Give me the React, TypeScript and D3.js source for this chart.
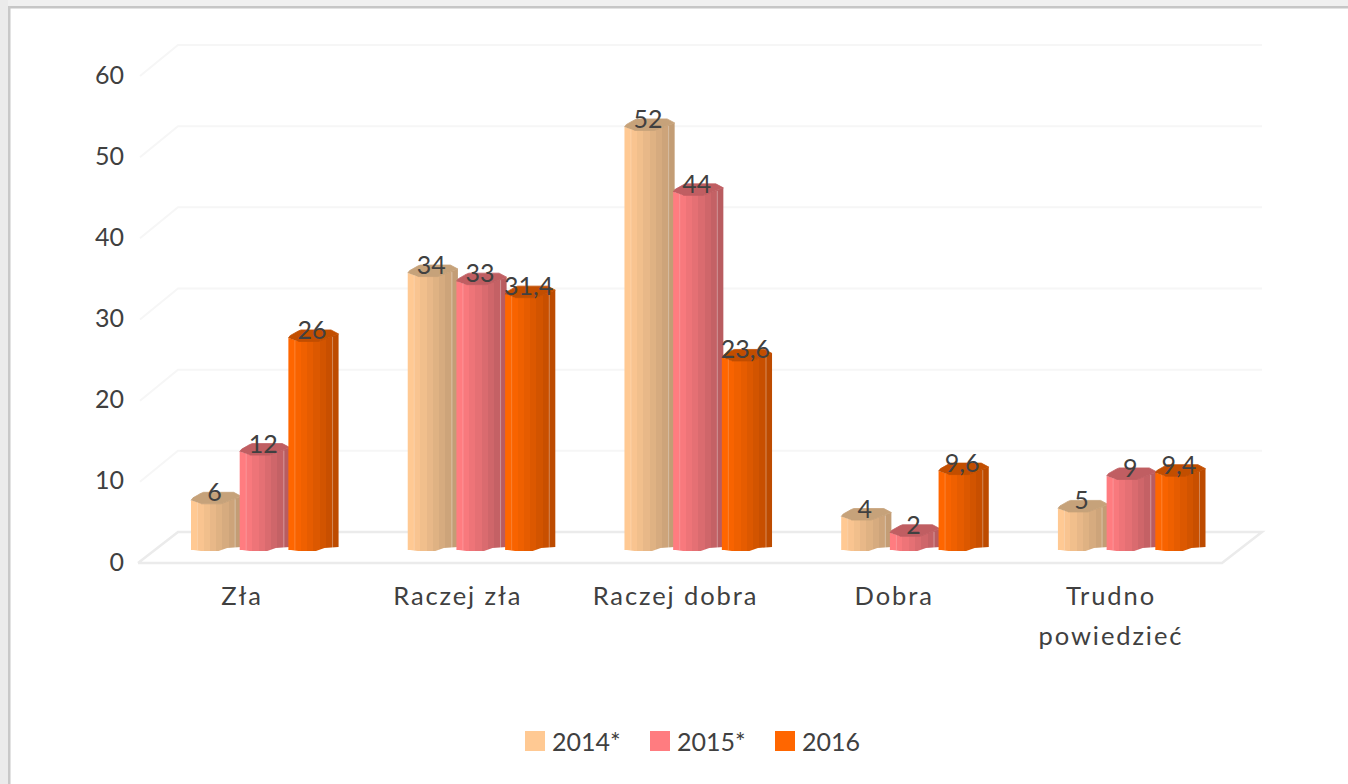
import React from "react";
import * as d3 from "d3";

const categories = ["Zła", "Raczej zła", "Raczej dobra", "Dobra", "Trudno powiedzieć"];
const seriesNames = ["2014*", "2015*", "2016"];
const values2014 = [6, 34, 52, 4, 5];
const values2015 = [12, 33, 44, 2, 9];
const values2016 = [26, 31.4, 23.6, 9.6, 9.4];
const valueLabels2014 = ["6", "34", "52", "4", "5"];
const valueLabels2015 = ["12", "33", "44", "2", "9"];
const valueLabels2016 = ["26", "31,4", "23,6", "9,6", "9,4"];
const yTicks = [0, 10, 20, 30, 40, 50, 60];

const WIDTH = 1348;
const HEIGHT = 784;
const FONT = "Lato, Carlito, sans-serif";
const TEXT = "#404040";
const baseColors = ["#FFC993", "#FF7C80", "#FF6600"];
const darkColors = ["#C39D75", "#B95C60", "#BD4B00"];
const topColors = ["#C6A27A", "#C05E62", "#C24E00"];
const labelShift = [-22, -23, -22, -20, -20];
const allValues = [values2014, values2015, values2016];
const allLabels = [valueLabels2014, valueLabels2015, valueLabels2016];

const yFront = d3.scaleLinear().domain([0, 60]).range([563, 76]);
const DEPTH_Y = 31;
const DEPTH_X = 38;
const BAR_BASE_OFFSET = 14;
const yBar = (v: number) => yFront(v) - BAR_BASE_OFFSET;

const x0 = d3.scaleBand<string>()
  .domain(categories)
  .range([191, 1204])
  .paddingInner(0.326)
  .paddingOuter(0);
const x1 = d3.scaleBand<string>()
  .domain(seriesNames)
  .range([0, x0.bandwidth()]);

const line = d3.line<[number, number]>();
const curve = d3.line<[number, number]>().curve(d3.curveCatmullRomClosed.alpha(0.5));

function stripeStops(i: number) {
  const interp = d3.interpolateRgb(baseColors[i], darkColors[i]);
  const steps = 8;
  const stops: React.ReactNode[] = [];
  for (let s = 0; s < steps; s++) {
    const c = interp(s === 0 ? 0 : Math.pow(s / (steps - 1), 1.15));
    stops.push(<stop key={`a${s}`} offset={s / steps} stopColor={c} />);
    stops.push(<stop key={`b${s}`} offset={(s + 1) / steps} stopColor={c} />);
  }
  return stops;
}

function Bar({ cat, si, ci }: { cat: string; si: number; ci: number }) {
  const v = allValues[si][ci];
  const x = x0(cat)! + x1(seriesNames[si])!;
  const w = x1.bandwidth() + 1.5;
  const yT = yBar(v);
  const yB = yBar(0);
  const body: [number, number][] = [
    [x, yT],
    [x + 0.2 * w, yT + 3],
    [x + 0.6 * w, yT + 3],
    [x + w, yT - 4],
    [x + w, yB - 2],
    [x + 0.72 * w, yB - 1],
    [x + 0.55 * w, yB + 2],
    [x + 0.2 * w, yB + 2],
    [x + 0.05 * w, yB + 1],
    [x, yB + 1],
  ];
  const top: [number, number][] = [
    [x, yT],
    [x + 0.04 * w, yT - 2.5],
    [x + 0.2 * w, yT - 7],
    [x + 0.25 * w, yT - 8],
    [x + 0.85 * w, yT - 8],
    [x + w, yT - 4],
    [x + 0.6 * w, yT + 3.5],
    [x + 0.2 * w, yT + 3.5],
  ];
  return (
    <g>
      <path d={line(body)!} fill={`url(#stripe${si})`} />
      <path d={line(top)!} fill={topColors[si]} stroke={topColors[si]} strokeWidth={0.8} strokeLinejoin="round" />
      <line x1={x + 0.13 * w} x2={x + 0.13 * w} y1={yT + 2} y2={yB + 1} stroke="#fff" strokeOpacity={0.2} />
      <line x1={x + 0.88 * w} x2={x + 0.88 * w} y1={yT - 1} y2={yB - 1} stroke="#fff" strokeOpacity={0.35} />
    </g>
  );
}

export default function App() {
  return (
    <svg
      width={WIDTH}
      height={HEIGHT}
      viewBox={`0 0 ${WIDTH} ${HEIGHT}`}
      style={{ position: "absolute", left: 0, top: 0, display: "block" }}
      fontFamily={FONT}
    >
      <defs>
        {seriesNames.map((_, i) => (
          <linearGradient key={i} id={`stripe${i}`} x1="0" x2="1" y1="0" y2="0">
            {stripeStops(i)}
          </linearGradient>
        ))}
      </defs>
      <rect width={WIDTH} height={HEIGHT} fill="#fff" />
      <rect width={WIDTH} height={6} fill="#f0f0f0" />
      <rect width={8} height={HEIGHT} fill="#ebebeb" />
      <rect x={8} y={6} width={WIDTH - 8} height={2.5} fill="#c6c6c6" />
      <rect x={8} y={6} width={2.5} height={HEIGHT - 6} fill="#c8c8c8" />

      {yTicks.slice(1).map((t) => (
        <path
          key={t}
          d={line([
            [140, yFront(t)],
            [140 + DEPTH_X, yFront(t) - DEPTH_Y],
            [1262, yFront(t) - DEPTH_Y],
          ])!}
          fill="none"
          stroke="#f6f6f6"
          strokeWidth={2}
        />
      ))}
      <path
        d={line([
          [138, yFront(0)],
          [1222, yFront(0)],
          [1262, yFront(0) - DEPTH_Y],
          [178, yFront(0) - DEPTH_Y],
          [138, yFront(0)],
        ])!}
        fill="none"
        stroke="#ebebeb"
        strokeWidth={2.5}
      />

      {yTicks.map((t) => (
        <text key={t} x={124} y={yFront(t) + 7.5} textAnchor="end" fontSize={25} fill={TEXT}>
          {t}
        </text>
      ))}

      {categories.map((cat, ci) =>
        seriesNames.map((_, si) => <Bar key={`${ci}-${si}`} cat={cat} ci={ci} si={si} />)
      )}

      {categories.map((cat, ci) =>
        seriesNames.map((s, si) => (
          <text
            key={`${ci}-${si}`}
            x={x0(cat)! + x1(s)! + x1.bandwidth() / 2 - 0.8}
            y={yBar(allValues[si][ci]) + 1}
            textAnchor="middle"
            fontSize={25}
            fill={TEXT}
          >
            {allLabels[si][ci]}
          </text>
        ))
      )}

      {categories.map((cat, ci) => {
        const cx = x0(cat)! + x0.bandwidth() / 2 + labelShift[ci];
        const parts = cat === "Trudno powiedzieć" ? ["Trudno", "powiedzieć"] : [cat];
        return parts.map((p, i) => (
          <text
            key={p}
            x={cx}
            y={605 + i * 40}
            textAnchor="middle"
            fontSize={25.5}
            letterSpacing={1.9}
            fill={TEXT}
          >
            {p}
          </text>
        ));
      })}

      {seriesNames.map((s, i) => (
        <g key={s} transform={`translate(${525 + i * 125},731)`}>
          <rect width={20} height={20} fill={baseColors[i]} />
          <text x={27} y={19.5} fontSize={25} fill={TEXT}>
            {s}
          </text>
        </g>
      ))}
    </svg>
  );
}
